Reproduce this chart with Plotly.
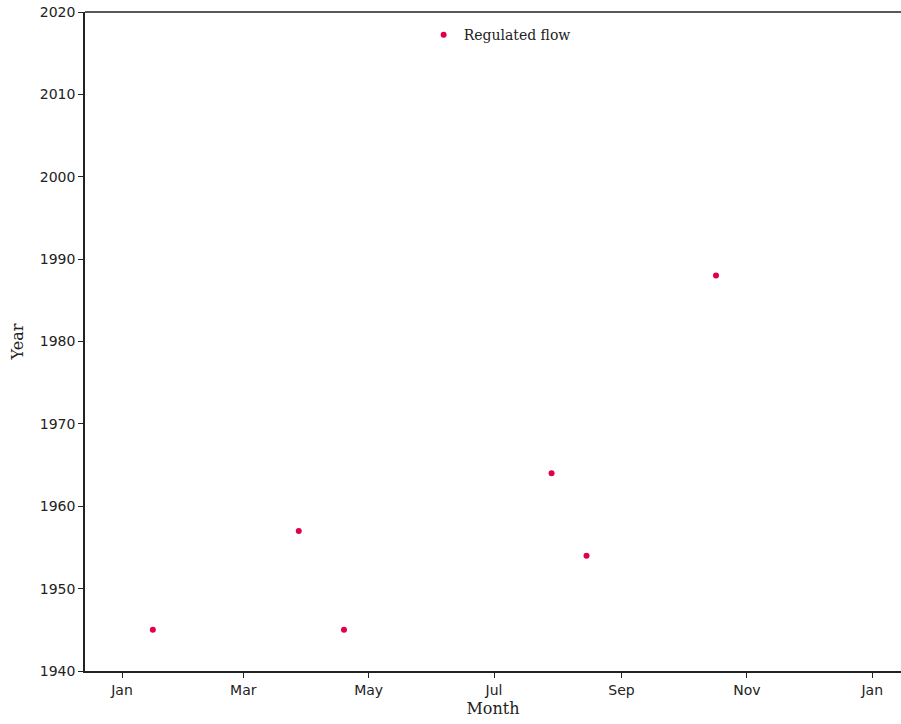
import plotly.graph_objects as go

# Data: dates (month-day within a reference year) and the year of the event
event_dates = ["2001-01-16", "2001-03-28", "2001-04-19", "2001-07-29", "2001-08-15", "2001-10-17"]
event_years = [1945, 1957, 1945, 1964, 1954, 1988]
series_name = "Regulated flow"

month_ticks = ["2001-01-01", "2001-03-01", "2001-05-01", "2001-07-01", "2001-09-01", "2001-11-01", "2002-01-01"]
month_labels = ["Jan", "Mar", "May", "Jul", "Sep", "Nov", "Jan"]
year_ticks = [1940, 1950, 1960, 1970, 1980, 1990, 2000, 2010, 2020]

fig = go.Figure()
fig.add_trace(go.Scatter(
    x=event_dates, y=event_years, mode="markers", name=series_name,
    marker=dict(color="#e0004a", size=6, symbol="circle", line=dict(width=0)),
))

axis_common = dict(
    showgrid=False, zeroline=False, showline=True, linecolor="#222222", linewidth=1.5,
    ticks="outside", ticklen=5, tickwidth=1.2, tickcolor="#222222",
    tickfont=dict(family="DejaVu Sans", size=14, color="#222222"),
)

fig.update_xaxes(
    type="date", range=["2000-12-14", "2002-01-15"],
    tickvals=month_ticks, ticktext=month_labels, mirror=False,
    title=dict(text="Month", font=dict(family="DejaVu Serif", size=16, color="#222222"), standoff=6),
    **axis_common,
)
fig.update_yaxes(
    range=[1940, 2020], tickvals=year_ticks,
    title=dict(text="Year", font=dict(family="DejaVu Serif", size=16, color="#222222"), standoff=12),
    **axis_common,
)

# top spine
fig.add_shape(type="line", xref="paper", yref="paper", x0=0, x1=1, y0=1, y1=1,
              line=dict(color="#222222", width=1.5))

fig.update_layout(
    width=901, height=724,
    margin=dict(l=85, r=0, t=12, b=53),
    paper_bgcolor="white", plot_bgcolor="white",
    showlegend=True,
    legend=dict(x=0.415, y=0.965, xanchor="left", yanchor="middle",
                font=dict(family="DejaVu Serif", size=14, color="#222222"),
                bgcolor="rgba(0,0,0,0)"),
)

fig.write_html("out.html", config={"displayModeBar": False},
               post_script="document.body.style.margin='0';document.body.style.overflow='hidden';")
